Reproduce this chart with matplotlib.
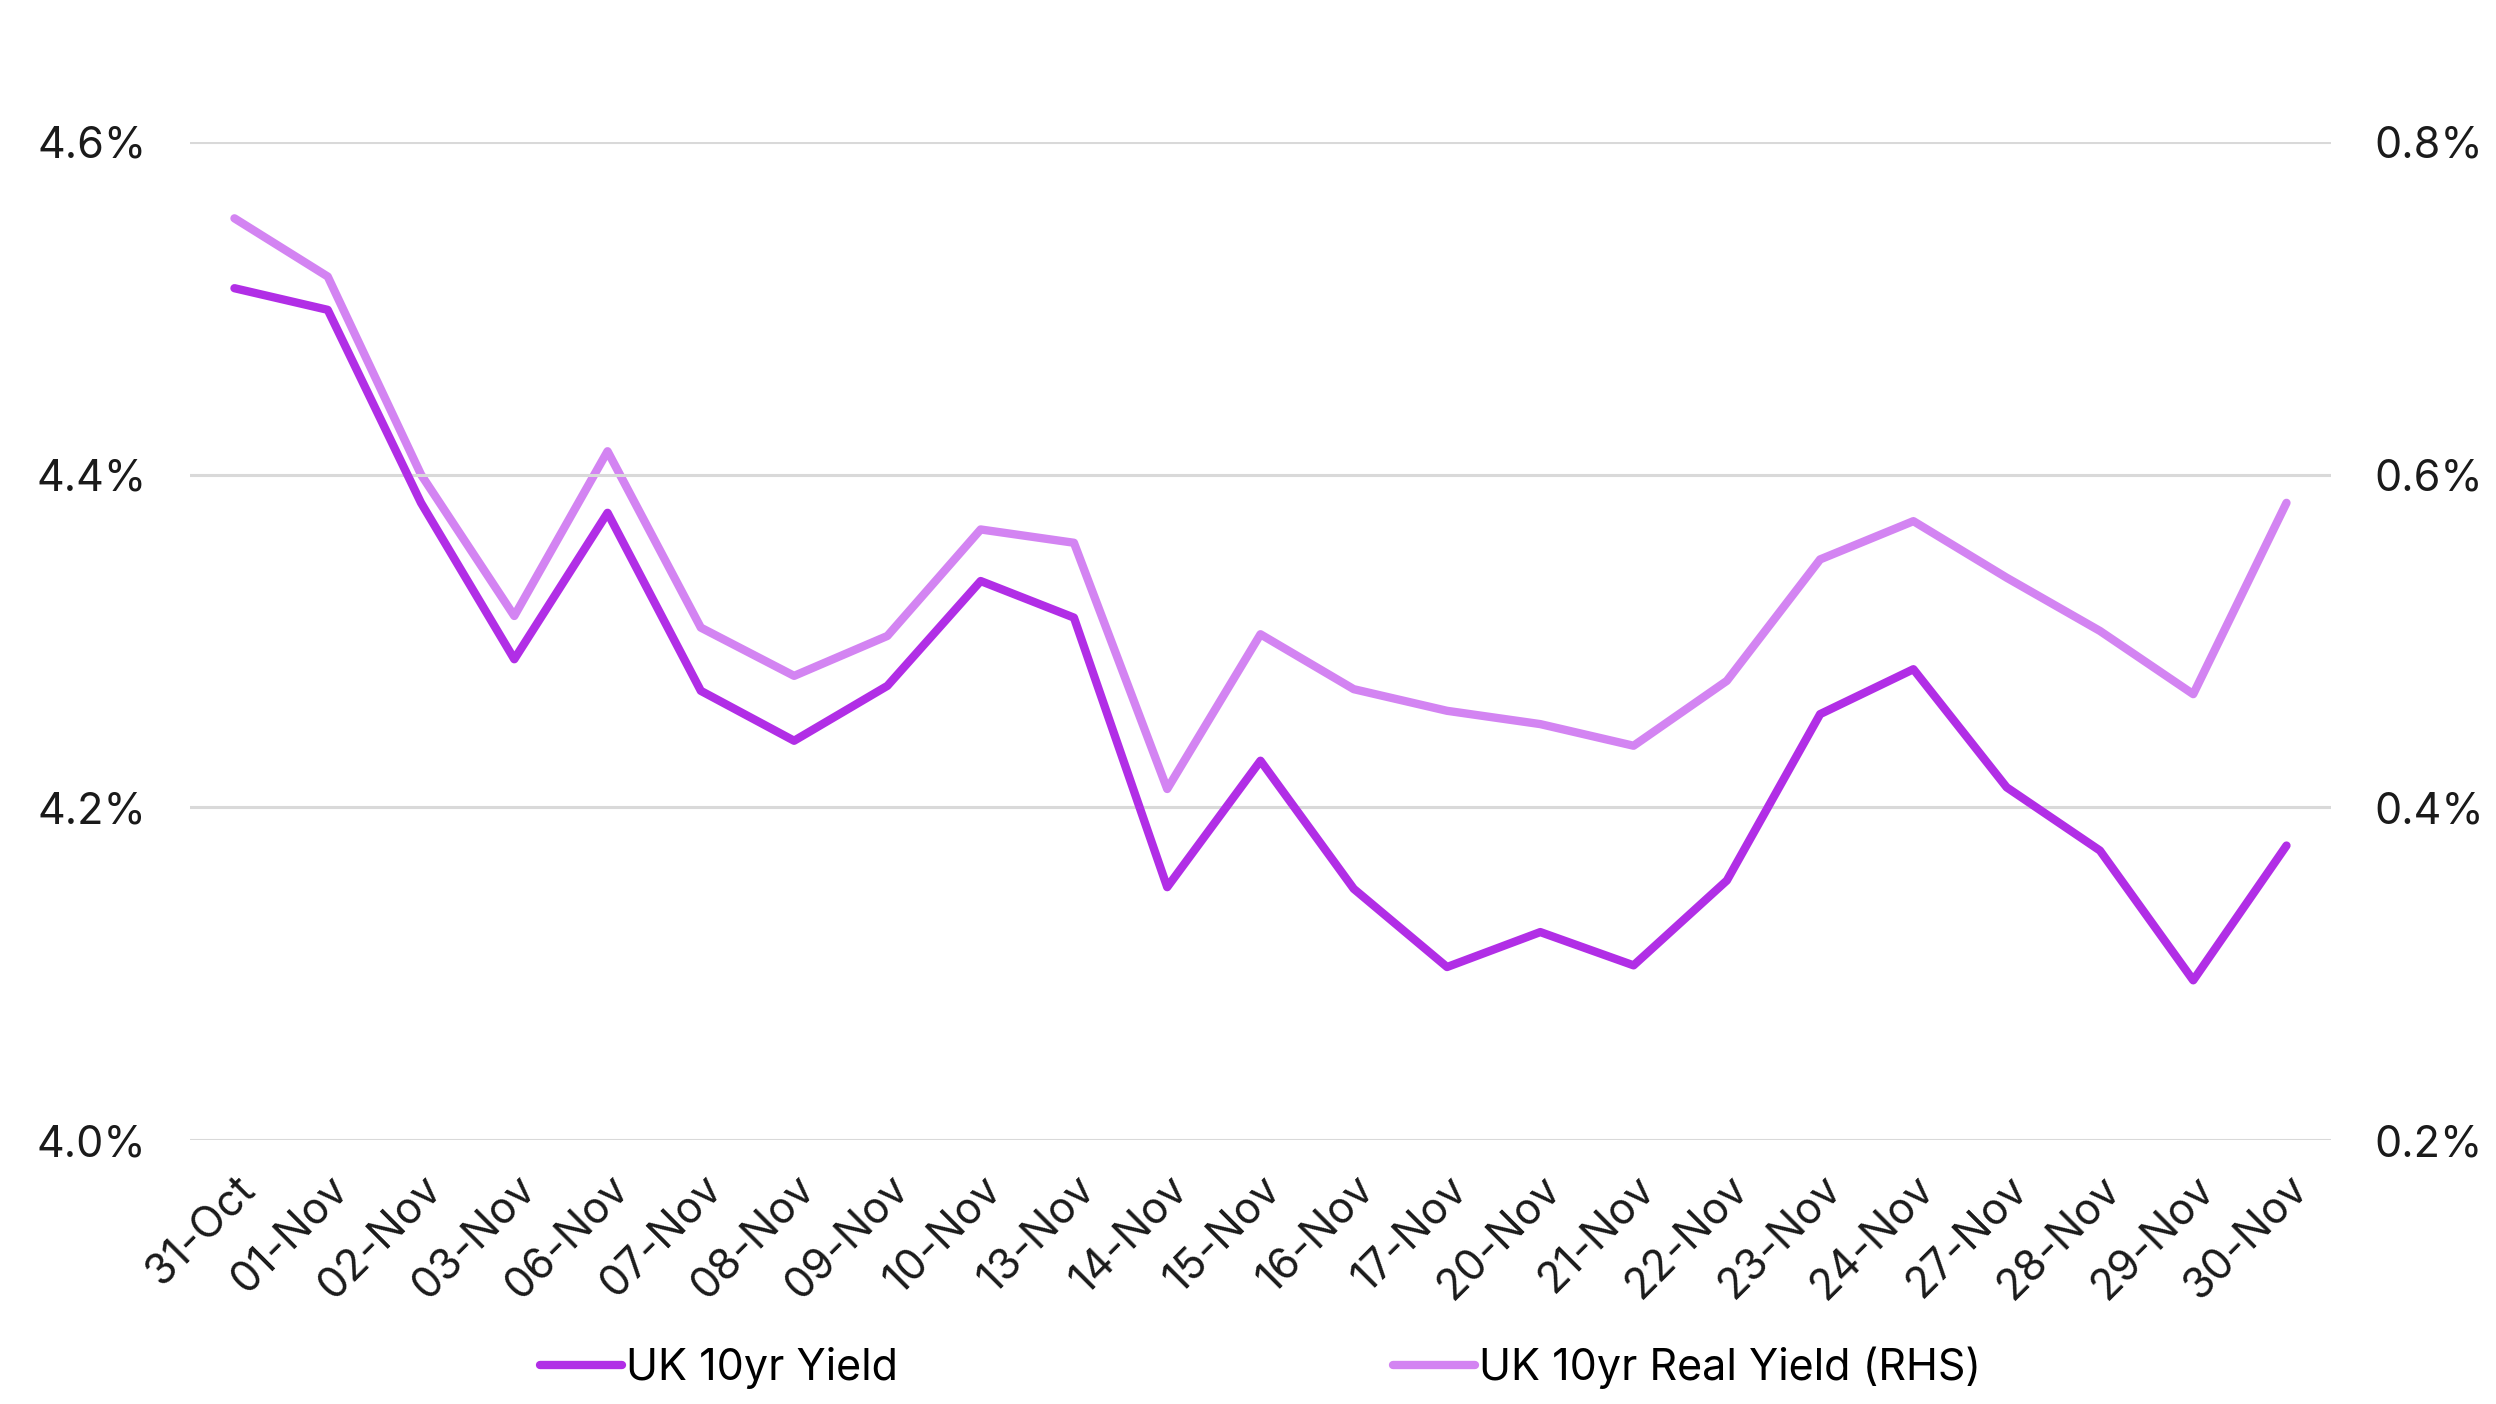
import numpy as np
import matplotlib
matplotlib.use("Agg")
import matplotlib.pyplot as plt
from matplotlib.ticker import FuncFormatter

plt.rcParams['font.family'] = ['Inter', 'DejaVu Sans']

dates = ["31-Oct", "01-Nov", "02-Nov", "03-Nov", "06-Nov", "07-Nov", "08-Nov",
         "09-Nov", "10-Nov", "13-Nov", "14-Nov", "15-Nov", "16-Nov", "17-Nov",
         "20-Nov", "21-Nov", "22-Nov", "23-Nov", "24-Nov", "27-Nov", "28-Nov",
         "29-Nov", "30-Nov"]

uk_10yr = [4.512, 4.499, 4.383, 4.289, 4.377, 4.270, 4.240, 4.273, 4.336, 4.314,
           4.152, 4.228, 4.151, 4.104, 4.125, 4.105, 4.156, 4.256, 4.283, 4.212,
           4.174, 4.096, 4.177]

uk_10yr_real = [0.754, 0.719, 0.600, 0.515, 0.614, 0.508, 0.479, 0.503, 0.567, 0.559,
                0.411, 0.504, 0.471, 0.458, 0.450, 0.437, 0.476, 0.549, 0.572, 0.538,
                0.506, 0.468, 0.583]

dark = "#B12EE6"
light = "#D384F2"

fig = plt.figure(figsize=(24.96, 14.04), dpi=100)
ax = fig.add_axes([0.076, 0.188, 0.858, 0.711])
ax2 = ax.twinx()

x = np.arange(len(dates))
l1, = ax.plot(x, uk_10yr, color=dark, linewidth=6, solid_capstyle='round',
              solid_joinstyle='round', label="UK 10yr Yield", zorder=3)
l2, = ax2.plot(x, uk_10yr_real, color=light, linewidth=6, solid_capstyle='round',
               solid_joinstyle='round', label="UK 10yr Real Yield (RHS)")

ax.set_zorder(ax2.get_zorder() + 1)
ax.patch.set_visible(False)

ax.set_xlim(-0.48, len(dates) - 1 + 0.48)
ax.set_ylim(4.0, 4.6)
ax2.set_ylim(0.2, 0.8)
ax.set_yticks([4.0, 4.2, 4.4, 4.6])
ax2.set_yticks([0.2, 0.4, 0.6, 0.8])
ax.yaxis.set_major_formatter(FuncFormatter(lambda v, p: f"{v:.1f}%"))
ax2.yaxis.set_major_formatter(FuncFormatter(lambda v, p: f"{v:.1f}%"))

ax.set_xticks(x)
ax.set_xticklabels(dates, rotation=45, ha='right', rotation_mode='anchor')

ax.grid(axis='y', color='#D9D9D9', linewidth=2.2)
ax.grid(axis='x', visible=False)
ax.set_axisbelow(True)

for a in (ax, ax2):
    for s in a.spines.values():
        s.set_visible(False)
    a.tick_params(length=0, labelsize=31, colors='#1a1a1a')
ax.tick_params(axis='y', pad=31)
ax2.tick_params(axis='y', pad=31)
ax.tick_params(axis='x', pad=20)

fig.legend(handles=[l1, l2], loc='center', bbox_to_anchor=(0.505, 0.026), ncol=2,
           frameon=False, fontsize=31, handlelength=1.9, handletextpad=0.1,
           columnspacing=11.5)

fig.savefig("out.png", dpi=100)
